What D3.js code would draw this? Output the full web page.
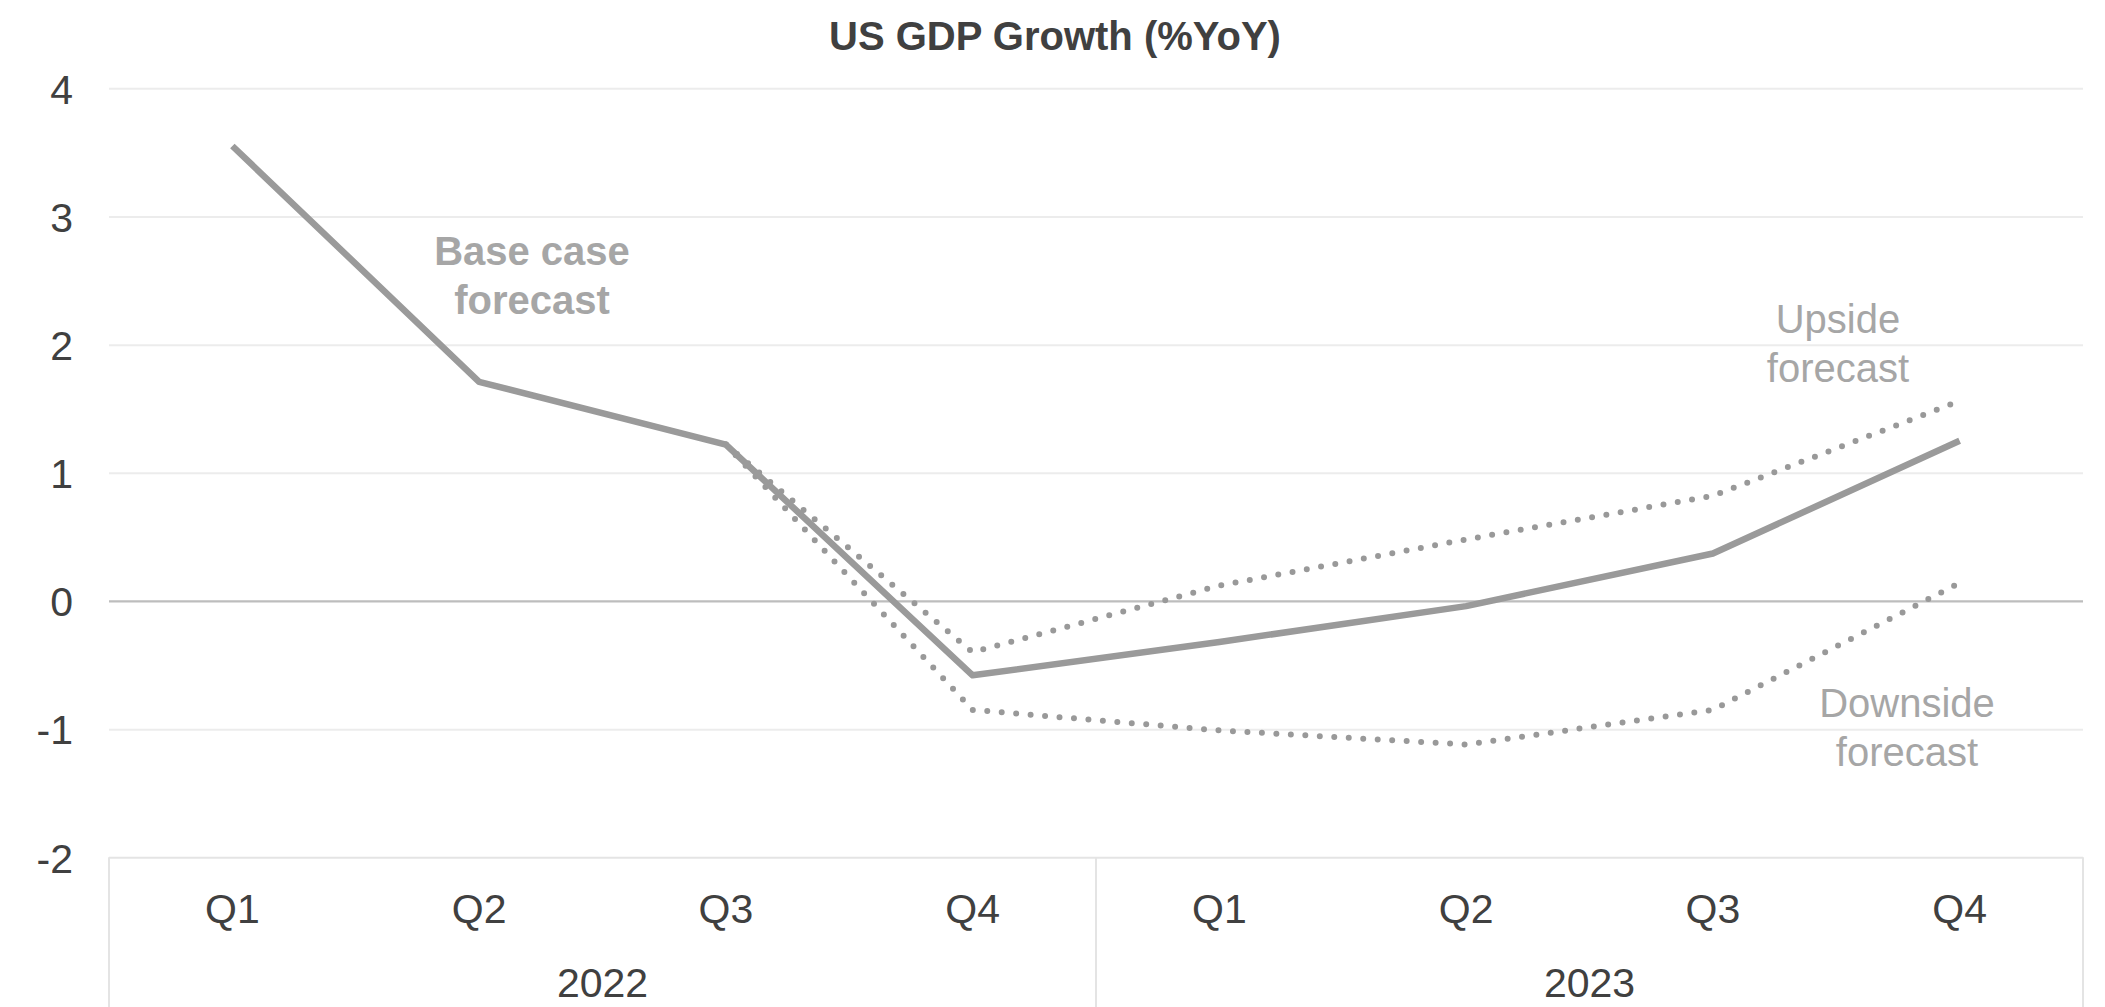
<!DOCTYPE html>
<html>
<head>
<meta charset="utf-8">
<script src="https://cdn.jsdelivr.net/npm/d3@7"></script>
<style>
  html, body { margin: 0; padding: 0; background: #ffffff; }
  svg { display: block; }
  text { font-family: "Liberation Sans", Arial, sans-serif; }
</style>
</head>
<body>
<svg id="chart" width="2105" height="1007"></svg>
<script>
// ---- Data ----
const quarters = ["Q1", "Q2", "Q3", "Q4", "Q1", "Q2", "Q3", "Q4"];
const years = ["2022", "2022", "2022", "2022", "2023", "2023", "2023", "2023"];
const yearGroups = ["2022", "2023"];
const baseCase = [3.55, 1.71, 1.22, -0.58, -0.32, -0.04, 0.37, 1.25];
const upside   = [null, null, 1.22, -0.40, 0.12, 0.48, 0.82, 1.56];
const downside = [null, null, 1.22, -0.85, -1.01, -1.12, -0.85, 0.14];
const yTicks = [-2, -1, 0, 1, 2, 3, 4];
const yTickLabels = ["-2", "-1", "0", "1", "2", "3", "4"];
const chartTitle = "US GDP Growth (%YoY)";

// ---- Layout ----
const W = 2105, H = 1007;
const plotLeft = 109, plotRight = 2083, plotTop = 88.3, plotBottom = 857.3;
const svg = d3.select("#chart");

const keys = quarters.map((q, i) => years[i] + "-" + q);
const x = d3.scaleBand().domain(keys).range([plotLeft, plotRight]).padding(0);
const y = d3.scaleLinear().domain([-2, 4]).range([plotBottom, plotTop]);

// Title
svg.append("text")
  .attr("x", 1055).attr("y", 50)
  .attr("text-anchor", "middle")
  .attr("font-size", 40).attr("font-weight", "bold")
  .attr("fill", "#404040")
  .text(chartTitle);

// Y axis with gridlines
const yAxis = d3.axisLeft(y).tickValues(yTicks).tickSize(-(plotRight - plotLeft)).tickPadding(36)
  .tickFormat((d, i) => yTickLabels[i]);
const gy = svg.append("g").attr("transform", `translate(${plotLeft},0)`).call(yAxis);
gy.select(".domain").remove();
gy.selectAll(".tick line")
  .attr("stroke", d => d === 0 ? "#bdbdbd" : (d === -2 ? "#e4e4e4" : "#ececec"))
  .attr("stroke-width", d => d === 0 ? 2.2 : 2);
gy.selectAll(".tick text")
  .attr("font-size", 41).attr("fill", "#404040")
  .attr("font-family", "'Liberation Sans', Arial, sans-serif")
  .attr("dy", "0.36em");

// X axis: quarter labels
const xAxis = d3.axisBottom(x).tickSize(0).tickPadding(0).tickFormat((d, i) => quarters[i]);
const gx = svg.append("g").attr("transform", `translate(0,${plotBottom})`).call(xAxis);
gx.select(".domain").remove();
gx.selectAll(".tick text")
  .attr("font-size", 41).attr("fill", "#404040")
  .attr("font-family", "'Liberation Sans', Arial, sans-serif")
  .attr("y", 66).attr("dy", 0);

// Year group separators and labels
const groupEdges = [plotLeft, x(keys[4]), plotRight];
svg.append("g").selectAll("line").data(groupEdges).join("line")
  .attr("x1", d => d).attr("x2", d => d)
  .attr("y1", plotBottom).attr("y2", H)
  .attr("stroke", "#e4e4e4").attr("stroke-width", 2);
svg.append("g").selectAll("text").data(yearGroups).join("text")
  .attr("x", (d, i) => (groupEdges[i] + groupEdges[i + 1]) / 2)
  .attr("y", 997)
  .attr("text-anchor", "middle")
  .attr("font-size", 41).attr("fill", "#404040")
  .text(d => d);

// Lines
const line = d3.line()
  .defined(d => d.v !== null)
  .x(d => x(d.k) + x.bandwidth() / 2)
  .y(d => y(d.v));

const toPts = arr => arr.map((v, i) => ({ k: keys[i], v: v }));

svg.append("path").datum(toPts(upside))
  .attr("d", line).attr("fill", "none")
  .attr("stroke", "#999999").attr("stroke-width", 6)
  .attr("stroke-linecap", "round").attr("stroke-dasharray", "0 14.5");
svg.append("path").datum(toPts(downside))
  .attr("d", line).attr("fill", "none")
  .attr("stroke", "#999999").attr("stroke-width", 6)
  .attr("stroke-linecap", "round").attr("stroke-dasharray", "0 14.5");
svg.append("path").datum(toPts(baseCase))
  .attr("d", line).attr("fill", "none")
  .attr("stroke", "#9a9a9a").attr("stroke-width", 6.5)
  .attr("stroke-linejoin", "round");

// Annotations
const notes = [
  { lines: ["Base case", "forecast"], x: 532, y: 265, bold: true },
  { lines: ["Upside", "forecast"], x: 1838, y: 333, bold: false },
  { lines: ["Downside", "forecast"], x: 1907, y: 717, bold: false }
];
notes.forEach(n => {
  const t = svg.append("text")
    .attr("text-anchor", "middle")
    .attr("font-size", 40)
    .attr("font-weight", n.bold ? "bold" : "normal")
    .attr("fill", "#a6a6a6");
  n.lines.forEach((l, i) => {
    t.append("tspan").attr("x", n.x).attr("y", n.y + i * 49).text(l);
  });
});
</script>
</body>
</html>
